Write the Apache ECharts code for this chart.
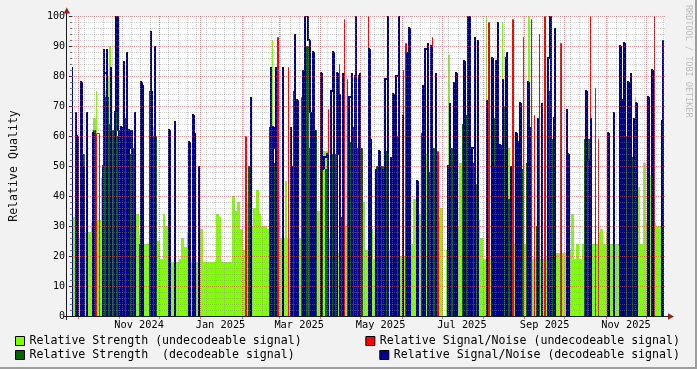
<!DOCTYPE html>
<html><head><meta charset="utf-8">
<script src="https://cdn.jsdelivr.net/npm/echarts@6/dist/echarts.min.js"></script>
<style>html,body{margin:0;padding:0;background:#f2f2f2}#c{width:697px;height:369px}</style>
</head><body><div id="c"></div>
<script>
// ---- data (one value per day, starting at the left edge of the plot) ----
const seriesNames = [
  'Relative Strength (undecodeable signal)',
  'Relative Strength  (decodeable signal)',
  'Relative Signal/Noise (undecodeable signal)',
  'Relative Signal/Noise (decodeable signal)'
];
const strengthUndecodeable = [
33,33,31,31,26,26,25,25,25,25,28,28,28,28,31,31,66,66,75,32,
32,32,46,46,75,75,80,80,90,45,45,45,45,45,30,30,30,30,30,30,
30,30,30,30,30,30,30,30,34,34,27,27,27,27,24,24,24,24,30,30,
63,63,28,28,25,25,19,19,34,34,30,30,18,18,18,18,18,18,18,18,
19,19,26,26,23,23,28,28,18,18,18,18,18,18,18,18,29,29,18,18,
18,18,18,18,18,18,18,18,34,34,33,33,18,18,18,18,18,18,18,18,
40,40,35,35,38,38,29,29,22,22,38,38,30,30,30,30,36,36,42,42,
34,34,30,30,30,30,29,29,29,29,92,30,30,30,34,34,26,26,26,26,
45,26,26,26,26,26,51,51,30,30,26,26,26,26,100,30,30,30,76,30,
30,30,39,39,35,35,30,30,55,55,55,55,26,26,20,20,20,20,21,21,
21,21,21,21,30,30,45,45,30,30,30,30,30,30,30,30,38,38,38,38,
22,22,22,22,29,29,19,19,22,22,22,22,22,22,22,22,22,22,22,22,
22,22,32,32,30,30,20,20,20,20,20,20,53,53,24,24,39,39,30,30,
34,34,30,30,54,54,30,30,30,30,30,30,30,30,33,33,36,36,0,0,
22,22,87,30,30,30,30,30,30,30,51,51,30,30,30,30,30,30,51,51,
30,30,30,30,32,32,26,26,19,19,100,19,19,19,19,19,30,30,30,30,
30,30,98,30,30,30,56,56,24,24,24,24,23,23,23,23,23,23,24,24,
24,24,100,19,19,19,19,19,19,19,19,19,19,19,19,19,30,30,30,30,
30,30,21,21,21,21,21,21,21,21,21,21,22,22,34,34,19,19,24,24,
19,19,24,24,24,24,24,24,59,59,24,24,24,24,28,28,29,29,24,24,
28,28,24,24,24,24,24,24,24,24,24,24,24,24,24,24,24,24,24,24,
24,24,73,43,43,43,24,24,51,51,31,31,47,47,30,30,31,31,30,30,
30,30,62,62
];
const strengthDecodeable = [
0,0,55,55,0,0,0,0,54,54,0,0,0,0,0,0,62,62,0,0,
0,0,0,0,73,73,73,73,64,64,62,62,88,88,60,60,48,48,55,55,
66,66,54,54,51,51,56,56,0,0,24,24,50,50,0,0,0,0,75,75,
60,60,60,60,0,0,0,0,0,0,0,0,0,0,0,0,0,0,0,0,
0,0,0,0,0,0,0,0,0,0,51,51,0,0,0,0,0,0,0,0,
0,0,0,0,0,0,0,0,0,0,0,0,0,0,0,0,0,0,0,0,
0,0,0,0,0,0,0,0,0,0,0,0,50,50,0,0,0,0,0,0,
0,0,0,0,0,0,0,0,63,63,51,51,48,48,0,0,0,0,0,0,
0,0,0,0,0,0,75,75,0,0,0,0,0,0,90,90,90,90,56,56,
62,62,62,62,0,0,49,49,0,0,49,49,0,0,54,54,54,54,0,0,
33,33,33,33,0,0,0,0,58,58,63,63,70,70,56,56,56,56,0,0,
0,0,0,0,0,0,0,0,50,50,0,0,50,50,55,55,55,55,0,0,
44,44,0,0,60,60,0,0,0,0,0,0,0,0,0,0,0,0,0,0,
0,0,61,61,0,0,71,71,48,48,56,56,60,60,0,0,0,0,0,0,
0,0,34,34,56,56,56,56,0,0,0,0,64,64,67,67,67,67,51,51,
51,51,44,44,0,0,0,0,0,0,68,68,0,0,0,0,66,66,60,60,
50,50,70,70,70,70,39,39,0,0,0,0,0,0,49,49,49,49,0,0,
51,51,58,58,0,0,0,0,30,30,0,0,0,0,0,0,75,75,62,62,
59,59,0,0,0,0,0,0,0,0,0,0,0,0,0,0,0,0,0,0,
0,0,0,0,59,59,59,59,59,59,0,0,0,0,0,0,0,0,0,0,
0,0,0,0,0,0,0,0,0,0,69,69,69,69,60,60,66,66,53,53,
53,53,53,53,0,0,0,0,0,0,0,0,0,0,50,50,0,0,0,0,
0,0,60,60
];
const snrUndecodeable = [
0,0,0,0,0,0,0,0,0,0,0,0,0,0,0,0,0,0,61,61,
61,0,0,0,0,0,0,0,0,0,0,0,0,0,0,0,0,0,0,0,
0,0,0,0,0,0,0,0,0,0,0,0,0,0,0,0,0,0,0,0,
0,0,0,0,0,0,0,0,0,0,0,0,0,0,0,0,0,0,0,0,
0,0,0,0,0,0,0,0,0,0,0,0,0,0,0,0,0,0,0,0,
0,0,0,0,0,0,0,0,0,0,0,0,0,0,0,0,0,0,0,0,
0,0,0,0,0,0,0,0,0,0,60,0,0,0,0,0,0,0,0,0,
0,0,0,0,0,0,0,0,0,0,0,0,0,0,93,0,0,0,0,0,
0,0,83,0,0,0,0,0,0,0,0,0,73,0,0,0,0,0,0,0,
0,0,0,0,0,0,0,0,0,0,0,0,69,0,0,0,0,0,0,0,
84,0,0,0,99,0,79,0,0,0,56,0,0,0,0,0,0,0,0,0,
0,0,100,0,0,0,0,0,0,0,0,0,0,0,0,0,0,0,0,0,
0,0,0,0,0,0,0,0,82,0,91,0,0,0,0,0,0,0,0,0,
0,0,0,0,0,0,0,0,0,0,93,0,0,0,55,0,0,0,0,0,
0,0,0,0,0,0,0,0,61,0,0,0,0,0,81,0,0,0,0,0,
0,0,0,0,0,0,0,0,0,0,0,0,98,0,0,0,0,0,0,0,
0,0,0,0,0,0,0,0,0,0,99,0,0,0,0,0,0,0,93,0,
0,0,0,0,99,0,67,0,0,0,94,0,0,0,100,0,0,0,0,0,
0,0,50,0,0,0,91,0,0,0,0,0,0,0,0,0,0,0,0,0,
0,0,0,0,0,0,0,0,100,0,0,0,76,0,59,0,0,0,0,0,
0,0,54,0,0,0,0,0,0,0,0,0,0,0,0,0,0,0,0,0,
0,0,0,0,0,0,0,0,0,0,0,0,0,0,0,0,100,0,0,0,
0,0,0,0
];
const snrDecodeable = [
83,0,0,68,60,0,0,78,0,50,0,68,0,0,0,0,61,0,0,0,
0,0,0,50,89,81,89,0,0,83,0,0,68,100,100,62,0,63,0,85,
0,88,0,62,56,62,0,68,0,0,0,0,78,77,0,0,0,0,0,95,
75,0,90,0,0,0,0,0,0,0,0,0,0,62,0,0,0,65,0,0,
0,0,0,0,0,0,0,0,58,0,0,67,61,0,0,50,0,0,0,0,
0,0,0,0,0,0,0,0,0,0,0,0,0,0,0,0,0,0,0,0,
0,0,0,0,0,0,0,0,0,0,0,0,0,0,73,0,0,0,0,0,
0,0,0,0,0,0,0,0,0,83,0,63,56,83,0,0,0,0,83,0,
0,0,0,0,63,50,0,94,0,72,0,0,0,82,0,100,100,100,92,68,
0,88,62,0,0,0,0,81,49,53,53,54,54,0,75,75,88,0,0,81,
54,74,0,81,0,0,0,0,73,73,81,0,80,100,0,80,81,0,0,0,
0,0,0,89,59,0,0,0,49,0,55,55,0,49,0,79,79,100,0,53,
0,74,0,80,80,100,0,0,67,0,0,88,0,96,0,0,0,0,0,45,
0,0,0,77,0,89,89,91,0,90,90,0,0,81,0,0,0,0,0,0,
0,0,50,71,0,0,78,0,81,0,0,0,0,0,85,0,0,100,100,0,
56,56,93,0,92,0,0,0,0,0,0,72,0,0,0,86,50,0,85,98,
0,57,0,79,0,86,88,0,0,50,0,0,0,61,0,58,71,0,0,0,
0,0,78,63,0,0,0,0,0,66,0,0,71,0,0,0,0,86,100,100,
0,66,96,0,0,0,0,0,0,0,0,69,54,0,0,0,0,0,0,0,
0,0,0,0,0,75,75,52,0,66,0,0,0,0,0,0,0,0,0,0,
0,0,61,0,0,0,68,0,0,0,0,90,0,72,91,0,0,78,0,81,
0,66,0,71,0,0,0,0,0,0,0,0,73,0,0,82,0,0,0,0,
0,0,65,92
];
const monthTickDates = ['2024-10-01','2024-11-01','2024-12-01','2025-01-01','2025-02-01','2025-03-01','2025-04-01','2025-05-01','2025-06-01','2025-07-01','2025-08-01','2025-09-01','2025-10-01','2025-11-01','2025-12-01'];
const labelDates = ['2024-11-16','2025-01-16','2025-03-16','2025-05-16','2025-07-16','2025-09-16','2025-11-16'];
const tickLabels = ['Nov 2024','Jan 2025','Mar 2025','May 2025','Jul 2025','Sep 2025','Nov 2025'];

// ---- setup ----
const DAY = 86400000;
const T0 = Date.UTC(2024, 8, 26, 16, 30);
const T1 = T0 + 444.55 * DAY;
const parseDay = s => { const p = s.split('-').map(Number); return Date.UTC(p[0], p[1] - 1, p[2]); };
const monthTicks = monthTickDates.map(parseDay);
const labelTicks = labelDates.map(parseDay);
const weekTicks = [];
for (let t = Date.UTC(2024, 8, 29); t < T1; t += 7 * DAY) weekTicks.push(t);

function makeItems(arr) {
  const n = arr.length;
  const items = arr.map((v, i) => [T0 + i * DAY, T0 + (i + 1) * DAY, v, i ? arr[i - 1] : 0, i < n - 1 ? arr[i + 1] : 0]);
  items.push([T0 + n * DAY, T0 + n * DAY, 0, arr[n - 1], 0]);
  return items;
}
function areaRender(color) {
  return function (params, api) {
    const v = api.value(2);
    if (!v) return null;
    const p0 = api.coord([api.value(0), v]);
    const p1 = api.coord([api.value(1), 0]);
    const x0 = Math.round(p0[0]), x1 = Math.round(p1[0]);
    if (x1 <= x0) return null;
    return { type: 'rect', shape: { x: x0, y: p0[1], width: x1 - x0, height: p1[1] - p0[1] }, style: { fill: color } };
  };
}
// step line like an rrdtool LINE: rising edges at the start of a day, falling edges one pixel earlier
function stepRender(color, w) {
  return function (params, api) {
    const v = api.value(2), pv = api.value(3), nv = api.value(4);
    if (!v && !pv) return null;
    const t0 = api.value(0), t1 = api.value(1);
    const a = api.coord([t0, pv]), b = api.coord([t0, v]), c = api.coord([t1, v]);
    const off = (w % 2) ? 0.5 : 0;
    let xa = Math.round(a[0]) + off; if (v < pv) xa -= 1;
    let xc = Math.round(c[0]) + off; if (nv < v) xc -= 1;
    const pts = [[xa, a[1] + off], [xa, b[1] + off]];
    if (v) pts.push([Math.max(xa, xc), b[1] + off]);
    return { type: 'polyline', shape: { points: pts }, style: { stroke: color, lineWidth: w, fill: null, lineJoin: 'miter' } };
  };
}
function labelFor(val) {
  let best = 0, bd = Infinity;
  labelTicks.forEach((t, i) => { const d = Math.abs(t - val); if (d < bd) { bd = d; best = i; } });
  return tickLabels[best];
}
const colors = ['#7fff00', '#006400', '#ff0000', '#00008f'];
const FONT = '"DejaVu Sans Mono", monospace';
const legendBase = { orient: 'horizontal', padding: 0, icon: 'rect', itemWidth: 9, itemHeight: 9,
  itemStyle: { borderColor: '#000', borderWidth: 1 },
  textStyle: { fontFamily: FONT, fontSize: 11.6, color: '#000', lineHeight: 14 }, selectedMode: false };
const enc = { x: [0, 1], y: [2, 3, 4] };

const chart = echarts.init(document.getElementById('c'), null, { renderer: 'canvas' });
chart.setOption({
  animation: false,
  backgroundColor: '#f2f2f2',
  grid: { left: 67, top: 16, width: 598, height: 300, show: true, backgroundColor: '#ffffff', borderWidth: 0 },
  legend: [
    Object.assign({}, legendBase, { data: [seriesNames[0]], left: 15, top: 334 }),
    Object.assign({}, legendBase, { data: [seriesNames[1]], left: 15, top: 348 }),
    Object.assign({}, legendBase, { data: [seriesNames[2]], right: 17, top: 334 }),
    Object.assign({}, legendBase, { data: [seriesNames[3]], right: 17, top: 348 })
  ],
  xAxis: [
    { type: 'value', min: T0, max: T1, z: 4, position: 'bottom', scale: true,
      axisLine: { show: false },
      axisTick: { show: true, length: 3, customValues: monthTicks, lineStyle: { color: 'rgba(222,80,80,0.8)' } },
      axisLabel: { customValues: labelTicks, margin: 4, fontFamily: FONT, fontSize: 10.3, color: '#000',
        showMinLabel: true, showMaxLabel: true, formatter: labelFor },
      splitLine: { show: true, lineStyle: { color: 'rgba(222,80,80,0.6)', width: 1, type: [1, 1] } } },
    { type: 'value', min: T0, max: T1, z: 3, position: 'top', scale: true,
      axisLine: { show: false }, axisLabel: { show: false },
      axisTick: { show: false, customValues: weekTicks },
      splitLine: { show: true, lineStyle: { color: 'rgba(143,143,143,0.4)', width: 1, type: [1, 1] } } }
  ],
  yAxis: {
    type: 'value', min: 0, max: 100, interval: 10, z: 4,
    name: 'Relative Quality', nameLocation: 'middle', nameRotate: 90, nameGap: 52,
    nameTextStyle: { fontFamily: FONT, fontSize: 11.6, color: '#111' },
    axisLine: { show: false },
    axisTick: { show: true, length: 3, lineStyle: { color: '#333' } },
    minorTick: { show: true, splitNumber: 5, length: 2, lineStyle: { color: '#777' } },
    axisLabel: { margin: 7, fontFamily: FONT, fontSize: 10, color: '#000' },
    splitLine: { show: true, lineStyle: { color: 'rgba(222,80,80,0.6)', width: 1, type: [1, 1] } },
    minorSplitLine: { show: true, lineStyle: { color: 'rgba(143,143,143,0.4)', width: 1, type: [1, 1] } }
  },
  series: [
    { name: seriesNames[0], type: 'custom', xAxisIndex: 0, clip: true, itemStyle: { color: colors[0] },
      renderItem: areaRender(colors[0]), encode: enc, data: makeItems(strengthUndecodeable) },
    { name: seriesNames[1], type: 'custom', xAxisIndex: 0, clip: true, itemStyle: { color: colors[1] },
      renderItem: areaRender(colors[1]), encode: enc, data: makeItems(strengthDecodeable) },
    { name: seriesNames[2], type: 'custom', xAxisIndex: 0, clip: true, itemStyle: { color: colors[2] },
      renderItem: stepRender(colors[2], 1), encode: enc, data: makeItems(snrUndecodeable) },
    { name: seriesNames[3], type: 'custom', xAxisIndex: 0, clip: true, itemStyle: { color: colors[3] },
      renderItem: stepRender(colors[3], 2), encode: enc, data: makeItems(snrDecodeable) }
  ],
  graphic: [
    { type: 'line', z: 100, silent: true, shape: { x1: 63, y1: 316.5, x2: 669, y2: 316.5 }, style: { stroke: '#1a1a1a', lineWidth: 1 } },
    { type: 'line', z: 100, silent: true, shape: { x1: 66.5, y1: 320, x2: 66.5, y2: 12 }, style: { stroke: '#1a1a1a', lineWidth: 1 } },
    { type: 'polygon', z: 101, silent: true, shape: { points: [[63.5, 13.5], [70, 13.5], [66.75, 7.5]] }, style: { fill: '#9a1f1f' } },
    { type: 'polygon', z: 101, silent: true, shape: { points: [[668, 313.25], [668, 319.75], [674, 316.5]] }, style: { fill: '#9a1f1f' } },
    { type: 'text', z: 100, silent: true, x: 688, y: 5, rotation: -Math.PI / 2,
      style: { text: 'RRDTOOL / TOBI OETIKER', fill: '#bdbdbd', font: '8.5px "DejaVu Sans Mono"', textAlign: 'left', textVerticalAlign: 'middle' } },
    { type: 'rect', z: 100, silent: true, shape: { x: 0, y: 367, width: 697, height: 2 }, style: { fill: '#9e9e9e' } },
    { type: 'rect', z: 100, silent: true, shape: { x: 695, y: 0, width: 2, height: 369 }, style: { fill: '#9e9e9e' } }
  ]
});
</script></body></html>
